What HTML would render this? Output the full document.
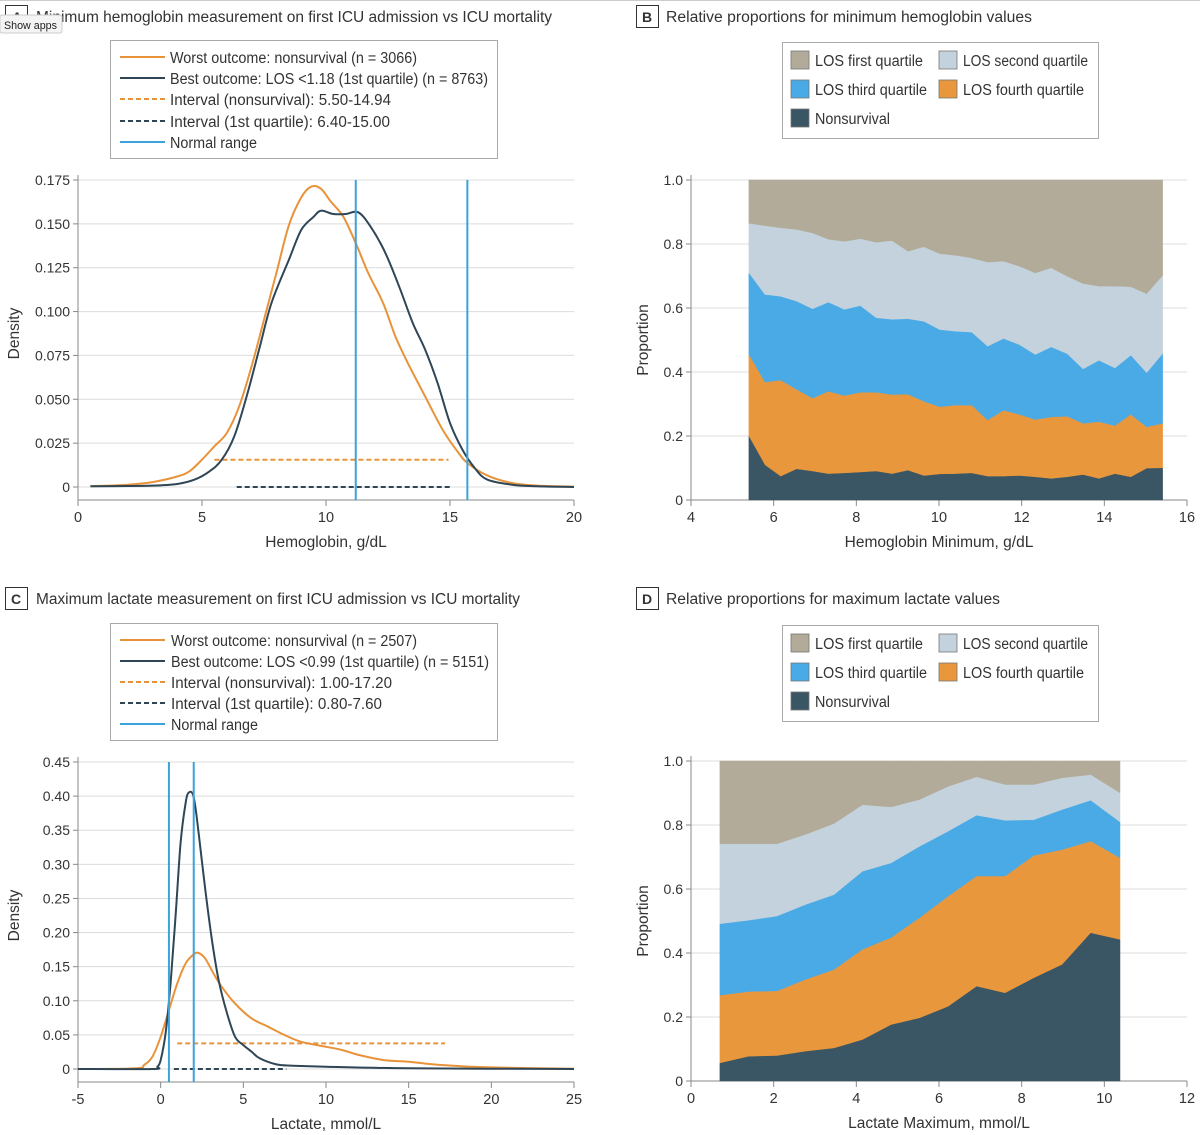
<!DOCTYPE html>
<html><head><meta charset="utf-8"><style>
html,body{margin:0;padding:0;background:#fff;}
svg{display:block;font-family:"Liberation Sans Narrow","Liberation Sans",sans-serif;}
</style></head><body>
<svg id="fig" width="1200" height="1135" viewBox="0 0 1200 1135" xmlns="http://www.w3.org/2000/svg">
<line x1="0" y1="0.5" x2="1200" y2="0.5" stroke="#ccc"/>
<g id="static" fill="#333" font-size="15.5">
<rect x="5.5" y="5.5" width="22" height="22" fill="#fff" stroke="#333"/>
<text x="12" y="22" font-weight="bold" font-size="14">A</text>
<text x="36" y="22" textLength="516" lengthAdjust="spacingAndGlyphs">Minimum hemoglobin measurement on first ICU admission vs ICU mortality</text>
<rect x="0" y="15" width="62" height="18" rx="2" fill="#f4f4f4" stroke="#ccc"/>
<text x="4" y="29" font-size="11" fill="#222" textLength="53" lengthAdjust="spacingAndGlyphs">Show apps</text>
<rect x="636.5" y="5.5" width="22" height="22" fill="#fff" stroke="#333"/>
<text x="642" y="22" font-weight="bold" font-size="14">B</text>
<text x="666" y="22" textLength="366" lengthAdjust="spacingAndGlyphs">Relative proportions for minimum hemoglobin values</text>
<rect x="5.5" y="587.5" width="22" height="22" fill="#fff" stroke="#333"/>
<text x="11" y="604" font-weight="bold" font-size="14">C</text>
<text x="36" y="604" textLength="484" lengthAdjust="spacingAndGlyphs">Maximum lactate measurement on first ICU admission vs ICU mortality</text>
<rect x="636.5" y="587.5" width="22" height="22" fill="#fff" stroke="#333"/>
<text x="642" y="604" font-weight="bold" font-size="14">D</text>
<text x="666" y="604" textLength="334" lengthAdjust="spacingAndGlyphs">Relative proportions for maximum lactate values</text>

<g>
<rect x="110.5" y="40.5" width="387" height="118" fill="#fff" stroke="#aaa"/>
<line x1="120" y1="57" x2="165" y2="57" stroke="#e8933a" stroke-width="2"/>
<text x="170" y="63" textLength="247" lengthAdjust="spacingAndGlyphs">Worst outcome: nonsurvival (n = 3066)</text>
<line x1="120" y1="78" x2="165" y2="78" stroke="#2f4656" stroke-width="2"/>
<text x="170" y="84" textLength="318" lengthAdjust="spacingAndGlyphs">Best outcome: LOS &lt;1.18 (1st quartile) (n = 8763)</text>
<line x1="120" y1="99" x2="165" y2="99" stroke="#e8933a" stroke-width="2" stroke-dasharray="5,3"/>
<text x="170" y="105" textLength="221" lengthAdjust="spacingAndGlyphs">Interval (nonsurvival): 5.50-14.94</text>
<line x1="120" y1="121" x2="165" y2="121" stroke="#2f4656" stroke-width="2" stroke-dasharray="5,3"/>
<text x="170" y="127" textLength="220" lengthAdjust="spacingAndGlyphs">Interval (1st quartile): 6.40-15.00</text>
<line x1="120" y1="142" x2="165" y2="142" stroke="#3aa3dc" stroke-width="2"/>
<text x="170" y="148" textLength="87" lengthAdjust="spacingAndGlyphs">Normal range</text>
</g>
<g>
<rect x="110.5" y="623.5" width="387" height="117" fill="#fff" stroke="#aaa"/>
<line x1="120" y1="640" x2="165" y2="640" stroke="#e8933a" stroke-width="2"/>
<text x="171" y="646" textLength="246" lengthAdjust="spacingAndGlyphs">Worst outcome: nonsurvival (n = 2507)</text>
<line x1="120" y1="661" x2="165" y2="661" stroke="#2f4656" stroke-width="2"/>
<text x="171" y="667" textLength="318" lengthAdjust="spacingAndGlyphs">Best outcome: LOS &lt;0.99 (1st quartile) (n = 5151)</text>
<line x1="120" y1="682" x2="165" y2="682" stroke="#e8933a" stroke-width="2" stroke-dasharray="5,3"/>
<text x="171" y="688" textLength="221" lengthAdjust="spacingAndGlyphs">Interval (nonsurvival): 1.00-17.20</text>
<line x1="120" y1="703" x2="165" y2="703" stroke="#2f4656" stroke-width="2" stroke-dasharray="5,3"/>
<text x="171" y="709" textLength="211" lengthAdjust="spacingAndGlyphs">Interval (1st quartile): 0.80-7.60</text>
<line x1="120" y1="724" x2="165" y2="724" stroke="#3aa3dc" stroke-width="2"/>
<text x="171" y="730" textLength="87" lengthAdjust="spacingAndGlyphs">Normal range</text>
</g>
</g>
<g id="dyn"></g>
</svg>
<script>
// ---------- Panel A data (hemoglobin density) ----------
const aOrangeX=[0.5,2,3,4,4.5,5,5.5,6,6.5,7,7.5,8,8.5,9,9.4,9.8,10.2,10.7,11.2,11.7,12.3,12.8,13.3,14,14.7,15.3,15.7,16.5,17.5,18.5,20];
const aOrangeY=[0.0004,0.0013,0.0028,0.006,0.009,0.0156,0.0232,0.0308,0.046,0.0688,0.0953,0.122,0.149,0.165,0.1712,0.170,0.1626,0.154,0.139,0.122,0.105,0.0858,0.0706,0.0516,0.0327,0.0203,0.0137,0.0066,0.0023,0.0008,0.0002];
const aDarkX=[0.5,3,4,4.7,5.3,5.8,6.3,6.8,7.3,7.8,8.5,9,9.5,9.8,10.3,10.8,11.3,11.8,12.4,13,13.5,14,14.5,15,15.5,16,16.5,17.5,18.5,20];
const aDarkY=[0.0004,0.0008,0.0017,0.0042,0.0089,0.0156,0.0288,0.0516,0.0782,0.1048,0.1294,0.1465,0.154,0.1575,0.1556,0.1556,0.1566,0.1484,0.1332,0.1124,0.0934,0.0782,0.0592,0.0365,0.0213,0.0108,0.0042,0.0013,0.0004,0];
const aIntervalNon=[5.5,14.94], aIntervalNonY=0.0155;
const aIntervalQ1=[6.4,15.0], aIntervalQ1Y=0;
const aNormal=[11.2,15.7];
const aXTicks=[0,5,10,15,20];
const aYTicks=[0,0.025,0.05,0.075,0.1,0.125,0.15,0.175];
const aYTickLabels=["0","0.025","0.050","0.075","0.100","0.125","0.150","0.175"];
// ---------- Panel C data (lactate density) ----------
const cOrangeX=[-5,-1.5,-1,-0.5,0,0.5,1,1.5,2,2.3,2.7,3.2,3.7,4.5,5.5,6.5,7.5,8.5,10,11,12,13.5,15,17,20,25];
const cOrangeY=[0,0.001,0.0058,0.018,0.0472,0.0862,0.1252,0.1544,0.168,0.17,0.1617,0.1398,0.1203,0.096,0.0741,0.062,0.0497,0.0399,0.0326,0.0277,0.0205,0.0131,0.0107,0.0058,0.0024,0.0005];
const cDarkX=[-5,-0.5,-0.2,0,0.3,0.6,0.9,1.2,1.5,1.7,2.0,2.3,2.7,3.1,3.5,4,4.5,5,5.5,6,7,8,10,15,25];
const cDarkY=[0,0,0.0034,0.0131,0.0526,0.1257,0.2231,0.3303,0.3887,0.4053,0.3984,0.345,0.2626,0.1894,0.1311,0.0828,0.0472,0.0351,0.0253,0.0156,0.0068,0.0049,0.0034,0.001,0];
const cIntervalNon=[1.0,17.2], cIntervalNonY=0.0375;
const cIntervalQ1=[0.8,7.6], cIntervalQ1Y=0;
const cNormal=[0.5,2.0];
const cXTicks=[-5,0,5,10,15,20,25];
const cYTicks=[0,0.05,0.1,0.15,0.2,0.25,0.3,0.35,0.4,0.45];
const cYTickLabels=["0","0.05","0.10","0.15","0.20","0.25","0.30","0.35","0.40","0.45"];
// ---------- Panel B data (cumulative proportions) ----------
const bX=[5.4,5.785,6.17,6.555,6.94,7.325,7.71,8.095,8.48,8.865,9.25,9.635,10.02,10.405,10.79,11.175,11.56,11.945,12.33,12.715,13.1,13.485,13.87,14.255,14.64,15.025,15.41];
const bNonsurv=[0.198,0.109,0.073,0.096,0.089,0.081,0.083,0.086,0.089,0.081,0.092,0.075,0.080,0.081,0.083,0.073,0.073,0.075,0.071,0.066,0.071,0.078,0.066,0.081,0.071,0.098,0.099];
const bQ4Cum=[0.453,0.367,0.373,0.344,0.317,0.338,0.325,0.335,0.335,0.328,0.329,0.307,0.290,0.295,0.295,0.248,0.279,0.266,0.250,0.258,0.260,0.238,0.243,0.231,0.266,0.227,0.238];
const bQ3Cum=[0.708,0.641,0.635,0.620,0.596,0.617,0.594,0.606,0.568,0.563,0.565,0.557,0.531,0.526,0.523,0.479,0.503,0.484,0.453,0.477,0.456,0.408,0.435,0.411,0.451,0.396,0.456];
const bQ2Cum=[0.863,0.856,0.849,0.844,0.833,0.813,0.807,0.815,0.804,0.809,0.776,0.790,0.768,0.763,0.755,0.742,0.745,0.729,0.708,0.724,0.698,0.675,0.667,0.667,0.665,0.643,0.700];
const bXTicks=[4,6,8,10,12,14,16];
// ---------- Panel D data (cumulative proportions) ----------
const dX=[0.7,1.39,2.08,2.77,3.46,4.15,4.84,5.53,6.22,6.91,7.6,8.29,8.98,9.67,10.38];
const dNonsurv=[0.055,0.076,0.078,0.092,0.102,0.128,0.175,0.196,0.232,0.295,0.274,0.321,0.363,0.462,0.441];
const dQ4Cum=[0.267,0.278,0.280,0.316,0.347,0.410,0.447,0.509,0.576,0.639,0.639,0.703,0.722,0.748,0.696];
const dQ3Cum=[0.490,0.501,0.514,0.550,0.581,0.654,0.680,0.732,0.779,0.829,0.813,0.815,0.847,0.876,0.808];
const dQ2Cum=[0.740,0.740,0.740,0.769,0.803,0.862,0.855,0.878,0.919,0.949,0.925,0.925,0.946,0.956,0.899];
const dXTicks=[0,2,4,6,8,10,12];
const pYTicks=[0,0.2,0.4,0.6,0.8,1.0];
const pYTickLabels=["0","0.2","0.4","0.6","0.8","1.0"];

const NS="http://www.w3.org/2000/svg";
const root=document.getElementById('dyn');
function mk(tag,attrs,parent){const e=document.createElementNS(NS,tag);for(const k in attrs)e.setAttribute(k,attrs[k]);(parent||root).appendChild(e);return e;}
function lin(d0,d1,r0,r1){return v=>r0+(v-d0)/(d1-d0)*(r1-r0);}
const C={orange:"#e8933a",dark:"#2f4656",norm:"#3aa3dc",grid:"#dcdcdc",axis:"#888",text:"#333"};

function axes(g,x,y,xTicks,yTicks,yLabels,xl,xr,yb,yt,axisY,xTitle,yTitle,titleX,yTitleX){
  yTicks.forEach((t,i)=>{
    const gl=mk('line',{x1:xl,x2:xr,y1:y(t),y2:y(t),stroke:C.grid,'stroke-width':1},g);
    
    
    mk('line',{x1:xl-5,x2:xl,y1:y(t),y2:y(t),stroke:C.axis},g);
    const tl=mk('text',{x:xl-8,y:y(t)+5,'text-anchor':'end','font-size':14,fill:C.text},g);
    tl.textContent=yLabels[i];
    
    
  });
  const ya=mk('line',{x1:xl,x2:xl,y1:yt-5,y2:axisY,stroke:C.axis},g);
  
  
  const xa=mk('line',{x1:xl,x2:xr,y1:axisY,y2:axisY,stroke:C.axis},g);
  
  
  xTicks.forEach(t=>{
    mk('line',{x1:x(t),x2:x(t),y1:axisY,y2:axisY+6,stroke:C.axis},g);
    const tl=mk('text',{x:x(t),y:axisY+22,'text-anchor':'middle','font-size':14.5,fill:C.text},g);
    tl.textContent=String(t);
    
    
  });
  const xt=mk('text',{x:titleX,y:axisY+47,'text-anchor':'middle','font-size':15.5,fill:C.text},g);
  xt.textContent=xTitle;
  
  
  const cy=(yb+yt)/2;
  const yl=mk('text',{x:yTitleX,y:cy,'text-anchor':'middle','font-size':15.5,fill:C.text,transform:`rotate(-90 ${yTitleX} ${cy})`},g);
  yl.textContent=yTitle;
  
  
}
function pathFrom(xs,ys,x,y){return xs.map((v,i)=>(i?'L':'M')+x(v).toFixed(1)+','+y(ys[i]).toFixed(1)).join(' ');}
function smoothPath(xs,ys,x,y){
  const p=xs.map((v,i)=>[x(v),y(ys[i])]);
  let d='M'+p[0][0].toFixed(1)+','+p[0][1].toFixed(1);
  for(let i=0;i<p.length-1;i++){
    const p0=p[i-1]||p[i],p1=p[i],p2=p[i+1],p3=p[i+2]||p2;
    const c1=[p1[0]+(p2[0]-p0[0])/6,p1[1]+(p2[1]-p0[1])/6];
    const c2=[p2[0]-(p3[0]-p1[0])/6,p2[1]-(p3[1]-p1[1])/6];
    d+=' C'+c1[0].toFixed(1)+','+c1[1].toFixed(1)+' '+c2[0].toFixed(1)+','+c2[1].toFixed(1)+' '+p2[0].toFixed(1)+','+p2[1].toFixed(1);
  }
  return d;
}

function densityPanel(name,xd,yd,xr,yr,oX,oY,dX_,dY_,intN,intNY,intQ,intQY,normal,xTicks,yTicks,yLabels,axisY,xTitle){
  const g=mk('g',{});
  
  
  const x=lin(xd[0],xd[1],xr[0],xr[1]), y=lin(yd[0],yd[1],yr[0],yr[1]);
  axes(g,x,y,xTicks,yTicks,yLabels,xr[0],xr[1],yr[0],yr[1],axisY,xTitle,'Density',(xr[0]+xr[1])/2,19);
  const i1=mk('line',{x1:x(intN[0]),x2:x(intN[1]),y1:y(intNY),y2:y(intNY),stroke:C.orange,'stroke-width':2,'stroke-dasharray':'5,3'},g);
  
  
  const i2=mk('line',{x1:x(intQ[0]),x2:x(intQ[1]),y1:y(intQY),y2:y(intQY),stroke:C.dark,'stroke-width':2,'stroke-dasharray':'5,3'},g);
  
  
  const o=mk('path',{d:smoothPath(oX,oY,x,y),fill:'none',stroke:C.orange,'stroke-width':2,'stroke-linejoin':'round'},g);
  
  
  const d=mk('path',{d:smoothPath(dX_,dY_,x,y),fill:'none',stroke:C.dark,'stroke-width':2,'stroke-linejoin':'round'},g);
  
  
  normal.forEach(v=>{
    const n=mk('line',{x1:x(v),x2:x(v),y1:yr[1],y2:axisY,stroke:C.norm,'stroke-width':2},g);
    
    
  });
}

function propPanel(name,xd,xr,yr,xs,l1,l2,l3,l4,xTicks,xTitle,legendY){
  const g=mk('g',{});
  
  
  const x=lin(xd[0],xd[1],xr[0],xr[1]), y=lin(0,1,yr[0],yr[1]);
  axes(g,x,y,xTicks,pYTicks,pYTickLabels,xr[0],xr[1],yr[0],yr[1],yr[0],xTitle,'Proportion',(xr[0]+xr[1])/2,648);
  const ones=xs.map(()=>1), zeros=xs.map(()=>0);
  const bands=[[l4,ones,'#b3ab99','band-los-first-quartile'],[l3,l4,'#c3d2dc','band-los-second-quartile'],[l2,l3,'#4aaae6','band-los-third-quartile'],[l1,l2,'#e8973c','band-los-fourth-quartile'],[zeros,l1,'#3a5563','band-nonsurvival']];
  bands.forEach(b=>{
    const lo=b[0],hi=b[1];
    let dd=xs.map((v,i)=>(i?'L':'M')+x(v).toFixed(1)+','+y(hi[i]).toFixed(1)).join(' ');
    for(let i=xs.length-1;i>=0;i--)dd+=' L'+x(xs[i]).toFixed(1)+','+y(lo[i]).toFixed(1);
    const p=mk('path',{d:dd+' Z',fill:b[2],stroke:b[2],'stroke-width':0.5},g);
    
    
  });
  const lg=mk('g',{},g);
  
  
  mk('rect',{x:782.5,y:legendY+0.5,width:316,height:96,fill:'#fff',stroke:'#aaa'},lg);
  const items=[['LOS first quartile','#b3ab99',791,18,108],['LOS second quartile','#c3d2dc',939,18,125],['LOS third quartile','#4aaae6',791,47,112],['LOS fourth quartile','#e8973c',939,47,121],['Nonsurvival','#3a5563',791,76,75]];
  items.forEach(it=>{
    mk('rect',{x:it[2],y:legendY+it[3]-9,width:18,height:18,fill:it[1],stroke:'#777','stroke-width':0.8},lg);
    const t=mk('text',{x:it[2]+24,y:legendY+it[3]+6,'font-size':15.5,fill:C.text,textLength:it[4],lengthAdjust:'spacingAndGlyphs'},lg);
    t.textContent=it[0];
    
    
  });
}

densityPanel('panel-a-hemoglobin-density',[0,20],[0,0.175],[78,574],[487,180],aOrangeX,aOrangeY,aDarkX,aDarkY,aIntervalNon,aIntervalNonY,aIntervalQ1,aIntervalQ1Y,aNormal,aXTicks,aYTicks,aYTickLabels,500,'Hemoglobin, g/dL');
densityPanel('panel-c-lactate-density',[-5,25],[0,0.45],[78,574],[1069,762],cOrangeX,cOrangeY,cDarkX,cDarkY,cIntervalNon,cIntervalNonY,cIntervalQ1,cIntervalQ1Y,cNormal,cXTicks,cYTicks,cYTickLabels,1082,'Lactate, mmol/L');
propPanel('panel-b-hemoglobin-proportions',[4,16],[691,1187],[500,180],bX,bNonsurv,bQ4Cum,bQ3Cum,bQ2Cum,bXTicks,'Hemoglobin Minimum, g/dL',42);
propPanel('panel-d-lactate-proportions',[0,12],[691,1187],[1081,761],dX,dNonsurv,dQ4Cum,dQ3Cum,dQ2Cum,dXTicks,'Lactate Maximum, mmol/L',625);
</script>
</body></html>
